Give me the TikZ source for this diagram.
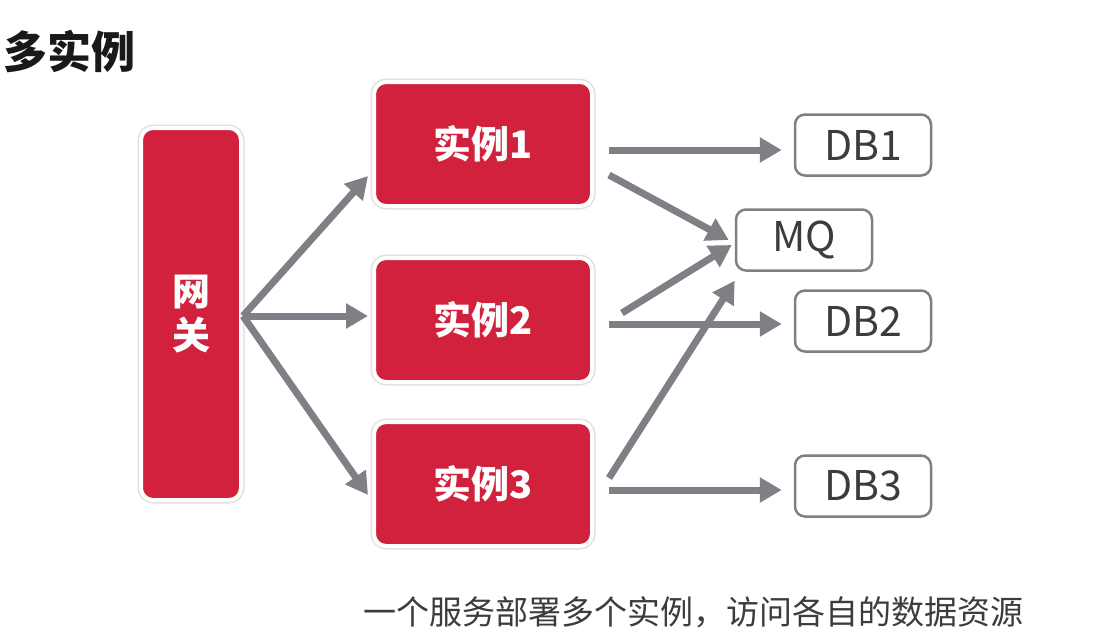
\documentclass[tikz,border=0pt]{standalone}
\usepackage{fontspec}
\setmainfont{Noto Sans CJK SC}
\usepackage{tikz}
\usetikzlibrary{arrows.meta, positioning, calc}

\definecolor{boxred}{RGB}{210,33,60}
\definecolor{arrowgray}{RGB}{127,128,133}
\definecolor{dbgray}{RGB}{128,128,128}
\definecolor{txtgray}{RGB}{60,60,60}

\tikzset{
  redbox/.style={fill=boxred, draw=white, line width=4pt, rounded corners=12pt,
    preaction={draw=black!12, line width=7pt, rounded corners=12pt},
    text=white, font=\fontsize{38}{44}\selectfont\bfseries, align=center},
  dbbox/.style={draw=dbgray, line width=2.5pt, rounded corners=10pt, fill=white,
    minimum width=136pt, minimum height=61pt, text=txtgray,
    font=\fontsize{41}{44}\selectfont},
  flow/.style={arrowgray, line width=7pt, -{Triangle[length=22pt, width=24pt]}},
}

\begin{document}
\begin{tikzpicture}[x=1pt, y=-1pt]
  \useasboundingbox (0,0) rectangle (1105,632);
  % title
  \node[font=\fontsize{44}{48}\selectfont\bfseries, text=black!90] (title) at (69,51) {多实例};
  % gateway and instances
  \node[redbox, minimum width=100pt, minimum height=372pt] (gw) at (191,314) {网\\关};
  \node[redbox, minimum width=218pt, minimum height=124pt] (inst1) at (483,144) {实例1};
  \node[redbox, minimum width=218pt, minimum height=124pt] (inst2) at (483,320) {实例2};
  \node[redbox, minimum width=218pt, minimum height=124pt] (inst3) at (483,484) {实例3};
  % resources
  \node[dbbox] (db1) at (863,145) {DB1};
  \node[dbbox] (mq) at (804,240) {MQ};
  \node[dbbox] (db2) at (863,321) {DB2};
  \node[dbbox] (db3) at (863,486) {DB3};
  % gateway to instances
  \draw[flow] ($(gw.east)+(0,2)$) -- ($(inst1.west)+(-4,32)$);
  \draw[flow] ($(gw.east)+(0,2)$) -- ($(inst2.west)+(-4,-4)$);
  \draw[flow] ($(gw.east)+(0,2)$) -- ($(inst3.west)+(-4,11)$);
  % instances to resources
  \draw[flow] ($(inst1.east)+(15,6)$) -- ($(db1.west)+(-12,5)$);
  \draw[flow] ($(inst1.east)+(15,31)$) -- ($(mq.west)+(-6,0)$);
  \draw[flow] ($(inst2.east)+(28,-7)$) -- ($(mq.west)+(-3,5)$);
  \draw[flow] ($(inst2.east)+(15,4)$) -- ($(db2.west)+(-12,3)$);
  \draw[flow] ($(inst3.east)+(15,-6)$) -- ($(mq.south west)+(0,9)$);
  \draw[flow] ($(inst3.east)+(15,6)$) -- ($(db3.west)+(-12,4)$);
  % caption
  \node[font=\fontsize{33}{36}\selectfont, text=txtgray] (caption) at (693,612) {一个服务部署多个实例，访问各自的数据资源};
\end{tikzpicture}
\end{document}
